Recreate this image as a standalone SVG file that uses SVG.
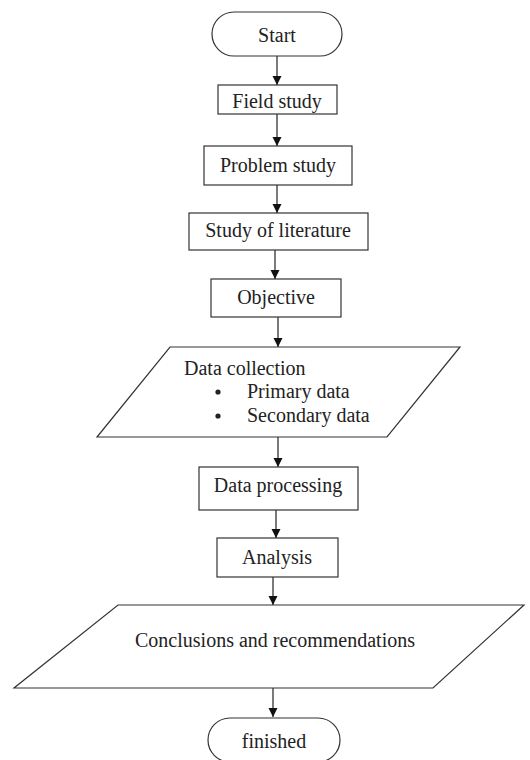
<svg xmlns="http://www.w3.org/2000/svg" width="530" height="760" viewBox="0 0 530 760">
<defs>
<style>
.s{fill:#fff;stroke:#333;stroke-width:1.2}
.t{font-family:"Liberation Serif","Times New Roman",serif;font-size:20px;fill:#222}
.c{text-anchor:middle}
.e{stroke:#222;stroke-width:1.2;fill:none}
</style>
<marker id="ah" viewBox="0 0 10 10" refX="10" refY="5" markerWidth="9" markerHeight="10" markerUnits="userSpaceOnUse" orient="auto">
<path d="M0,0 L10,5 L0,10 z" fill="#111"/>
</marker>
</defs>
<rect width="530" height="760" fill="#fff"/>
<g id="connectors">
<line class="e" x1="277" y1="56" x2="277" y2="85" marker-end="url(#ah)"/>
<line class="e" x1="277" y1="114" x2="277" y2="146" marker-end="url(#ah)"/>
<line class="e" x1="277" y1="185" x2="277" y2="213" marker-end="url(#ah)"/>
<line class="e" x1="275" y1="250" x2="275" y2="279" marker-end="url(#ah)"/>
<line class="e" x1="278" y1="317" x2="278" y2="347" marker-end="url(#ah)"/>
<line class="e" x1="278" y1="437" x2="278" y2="467" marker-end="url(#ah)"/>
<line class="e" x1="276" y1="510" x2="276" y2="538" marker-end="url(#ah)"/>
<line class="e" x1="273" y1="577" x2="273" y2="605" marker-end="url(#ah)"/>
<line class="e" x1="273" y1="688" x2="273" y2="717" marker-end="url(#ah)"/>
</g>
<g id="start">
<rect class="s" x="212" y="12" width="130" height="44" rx="22"/>
<text class="t c" x="277" y="42">Start</text>
</g>
<g id="field-study">
<rect class="s" x="218" y="85" width="119" height="29"/>
<text class="t c" x="277" y="108">Field study</text>
</g>
<g id="problem-study">
<rect class="s" x="204" y="146" width="148" height="39"/>
<text class="t c" x="278" y="172">Problem study</text>
</g>
<g id="literature">
<rect class="s" x="189" y="213" width="179" height="37"/>
<text class="t c" x="278" y="237">Study of literature</text>
</g>
<g id="objective">
<rect class="s" x="211" y="279" width="130" height="38"/>
<text class="t c" x="276" y="304">Objective</text>
</g>
<g id="data-collection">
<polygon class="s" points="170,347 460,347 387,437 97,437"/>
<text class="t" x="184" y="375">Data collection</text>
<circle cx="218" cy="392" r="2.6" fill="#222"/>
<text class="t" x="247" y="398">Primary data</text>
<circle cx="218" cy="416" r="2.6" fill="#222"/>
<text class="t" x="247" y="422">Secondary data</text>
</g>
<g id="data-processing">
<rect class="s" x="199" y="467" width="159" height="43"/>
<text class="t c" x="278" y="492">Data processing</text>
</g>
<g id="analysis">
<rect class="s" x="217" y="538" width="121" height="39"/>
<text class="t c" x="277" y="564">Analysis</text>
</g>
<g id="conclusions">
<polygon class="s" points="118,605 524,605 433,688 14,688"/>
<text class="t c" x="275" y="647">Conclusions and recommendations</text>
</g>
<g id="finished">
<rect class="s" x="208" y="718" width="132" height="44" rx="22"/>
<text class="t c" x="274" y="748">finished</text>
</g>
</svg>
